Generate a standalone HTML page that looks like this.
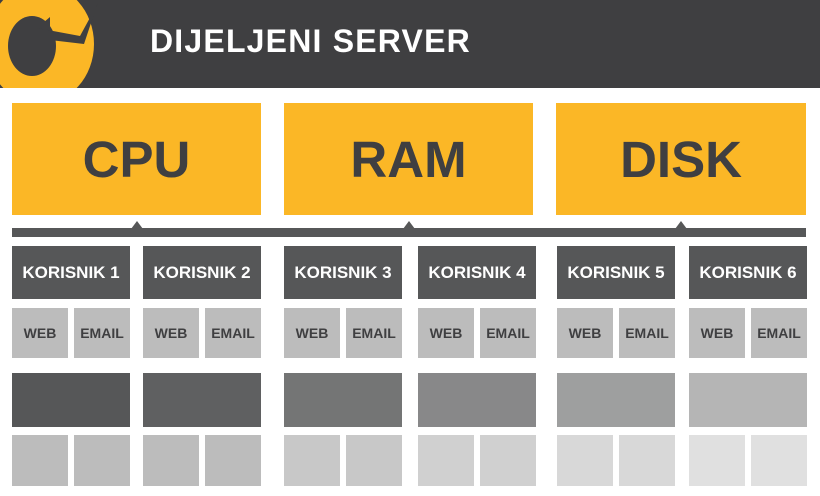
<!DOCTYPE html>
<html><head><meta charset="utf-8"><style>
*{margin:0;padding:0;box-sizing:border-box}
body{width:820px;height:496px;background:#fff;position:relative;overflow:hidden;font-family:"Liberation Sans",sans-serif;font-weight:bold}
.a{position:absolute;display:flex;align-items:center;justify-content:center}
.y{background:#fbb726;color:#3f3f41;font-size:51px;top:103px;height:112px}
.k{background:#565758;color:#fff;font-size:17px;top:246px;height:53px}
.w{background:#bcbcbc;color:#3f3f41;font-size:14px;top:308px;height:50px}
</style></head><body>
<div class="a" style="left:0;top:0;width:820px;height:88px;background:#3f3f41;justify-content:flex-start">
<svg width="110" height="88" style="position:absolute;left:0;top:0">
<ellipse cx="40" cy="44" rx="54" ry="60" fill="#fbb726"/>
<ellipse cx="32" cy="46" rx="24" ry="30" fill="#3f3f41"/>
<polygon points="50,17 37,28 80,36 98,3 92,20 84,44 50,40" fill="#3f3f41"/>
</svg>
<span style="position:absolute;left:150px;top:23px;color:#fff;font-size:32px;letter-spacing:1.2px">DIJELJENI SERVER</span></div>
<div class="a y" style="left:12px;width:249px">CPU</div>
<div class="a y" style="left:284px;width:249px">RAM</div>
<div class="a y" style="left:556px;width:250px">DISK</div>
<div class="a" style="left:12px;top:228px;width:794px;height:9px;background:#565758"></div>
<svg width="820" height="240" style="position:absolute;left:0;top:0">
<polygon points="131,229 137,221 143,229" fill="#565758"/>
<polygon points="403,229 409,221 415,229" fill="#565758"/>
<polygon points="675,229 681,221 687,229" fill="#565758"/>
</svg>
<div class="a k" style="left:12px;width:118px">KORISNIK 1</div>
<div class="a k" style="left:143px;width:118px">KORISNIK 2</div>
<div class="a k" style="left:284px;width:118px">KORISNIK 3</div>
<div class="a k" style="left:418px;width:118px">KORISNIK 4</div>
<div class="a k" style="left:557px;width:118px">KORISNIK 5</div>
<div class="a k" style="left:689px;width:118px">KORISNIK 6</div>
<div class="a w" style="left:12px;width:56px">WEB</div><div class="a w" style="left:74px;width:56px">EMAIL</div>
<div class="a w" style="left:143px;width:56px">WEB</div><div class="a w" style="left:205px;width:56px">EMAIL</div>
<div class="a w" style="left:284px;width:56px">WEB</div><div class="a w" style="left:346px;width:56px">EMAIL</div>
<div class="a w" style="left:418px;width:56px">WEB</div><div class="a w" style="left:480px;width:56px">EMAIL</div>
<div class="a w" style="left:557px;width:56px">WEB</div><div class="a w" style="left:619px;width:56px">EMAIL</div>
<div class="a w" style="left:689px;width:56px">WEB</div><div class="a w" style="left:751px;width:56px">EMAIL</div>
<div class="a" style="left:12px;top:373px;width:118px;height:54px;background:#565758"></div>
<div class="a" style="left:143px;top:373px;width:118px;height:54px;background:#5f6061"></div>
<div class="a" style="left:284px;top:373px;width:118px;height:54px;background:#747575"></div>
<div class="a" style="left:418px;top:373px;width:118px;height:54px;background:#888889"></div>
<div class="a" style="left:557px;top:373px;width:118px;height:54px;background:#9e9f9f"></div>
<div class="a" style="left:689px;top:373px;width:118px;height:54px;background:#b5b5b5"></div>
<div class="a" style="left:12px;top:435px;width:56px;height:51px;background:#bcbcbc"></div><div class="a" style="left:74px;top:435px;width:56px;height:51px;background:#bcbcbc"></div>
<div class="a" style="left:143px;top:435px;width:56px;height:51px;background:#bcbcbc"></div><div class="a" style="left:205px;top:435px;width:56px;height:51px;background:#bcbcbc"></div>
<div class="a" style="left:284px;top:435px;width:56px;height:51px;background:#c8c8c8"></div><div class="a" style="left:346px;top:435px;width:56px;height:51px;background:#c8c8c8"></div>
<div class="a" style="left:418px;top:435px;width:56px;height:51px;background:#d0d0d0"></div><div class="a" style="left:480px;top:435px;width:56px;height:51px;background:#d0d0d0"></div>
<div class="a" style="left:557px;top:435px;width:56px;height:51px;background:#d8d8d8"></div><div class="a" style="left:619px;top:435px;width:56px;height:51px;background:#d8d8d8"></div>
<div class="a" style="left:689px;top:435px;width:56px;height:51px;background:#e0e0e0"></div><div class="a" style="left:751px;top:435px;width:56px;height:51px;background:#e0e0e0"></div>
</body></html>
